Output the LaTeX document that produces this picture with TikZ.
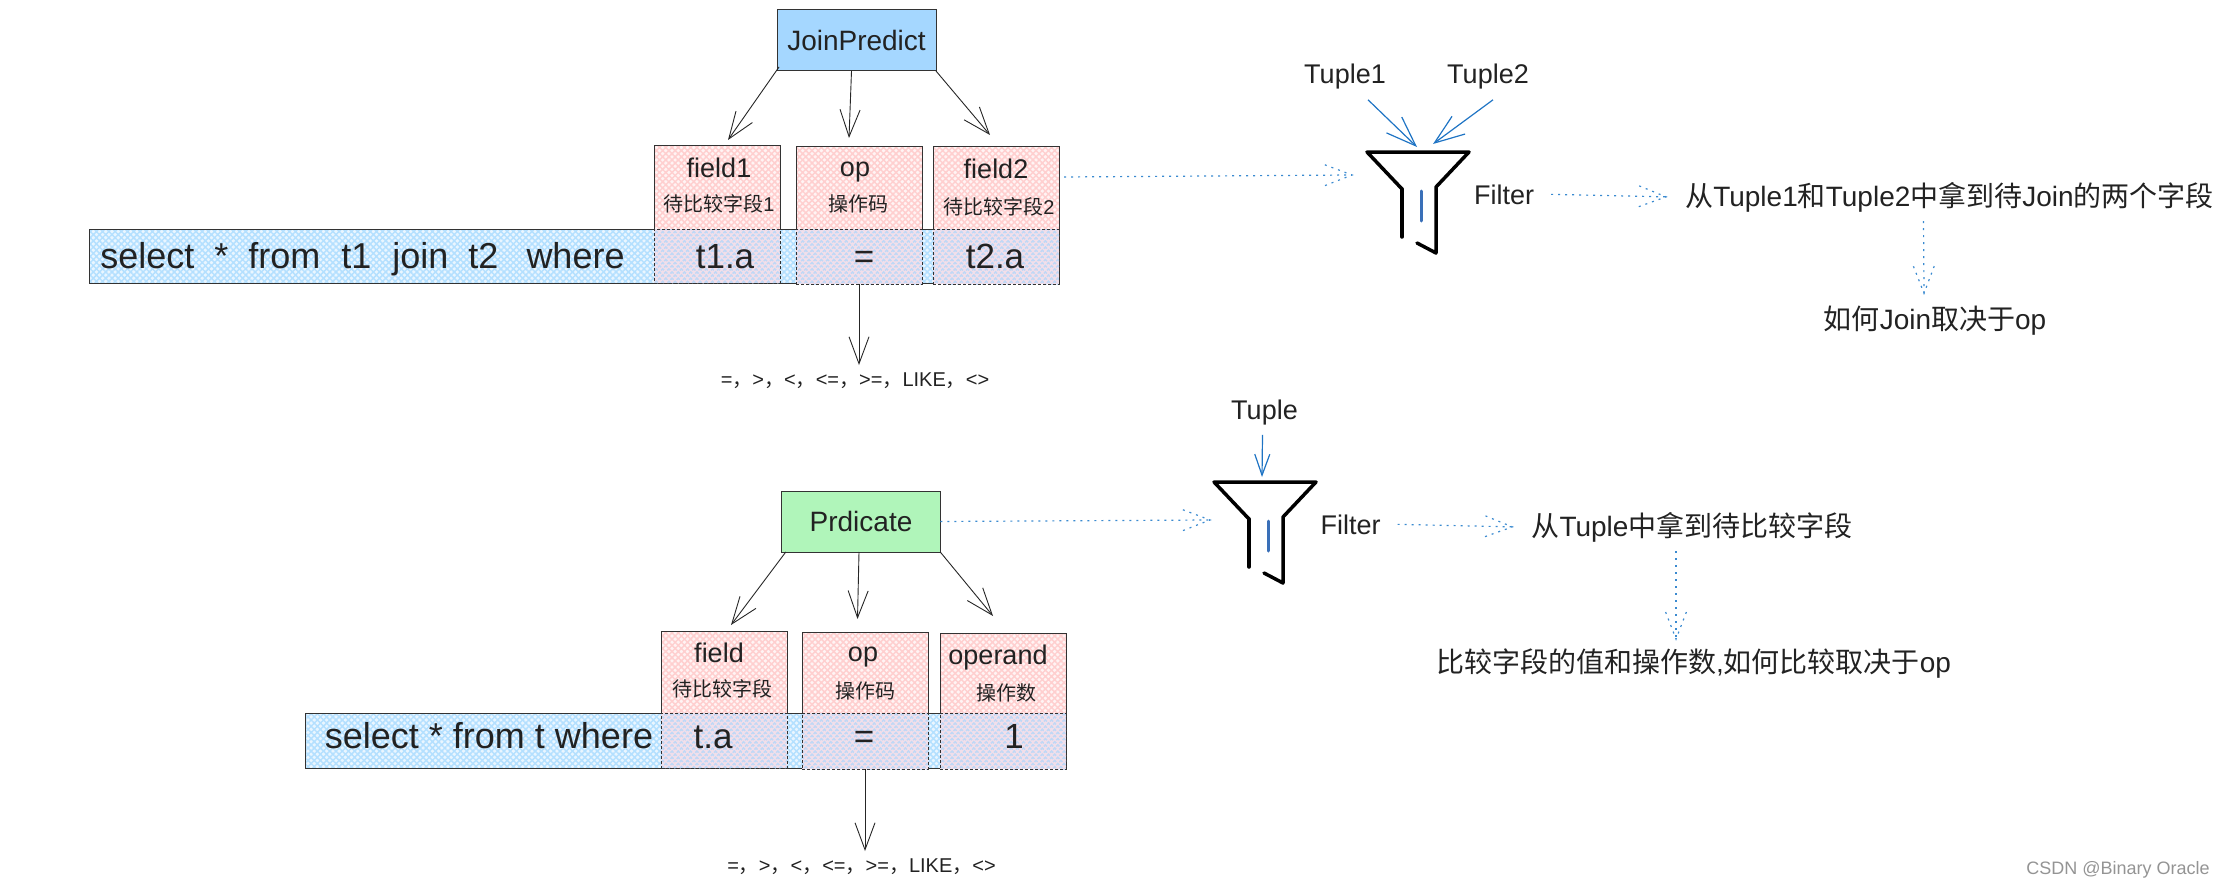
\documentclass[tikz,border=0pt]{standalone}
\usepackage{fontspec}
\setmainfont{Liberation Sans}
\newfontfamily\cjk{Noto Sans CJK SC}
\usetikzlibrary{arrows.meta,calc,patterns.meta}

\definecolor{inkGray}{HTML}{222222}
\definecolor{flowBlue}{HTML}{3A8AD0}
\definecolor{tupleBlue}{HTML}{1F74C4}
\definecolor{barBlue}{HTML}{3A70B8}
\definecolor{joinFill}{HTML}{A5D7FF}
\definecolor{predFill}{HTML}{B0F5BA}
\definecolor{barBack}{HTML}{EAF6FF}
\definecolor{barHatch}{HTML}{B4E0FF}
\definecolor{fieldBack}{HTML}{FFF4F4}
\definecolor{fieldHatch}{HTML}{FFCFCF}
\definecolor{cellBack}{HTML}{F2DFEA}
\definecolor{cellHatch}{HTML}{BFD8F6}
\newcommand{\cm}{{\cjk ，}}

\tikzset{
    hatchFill/.style 2 args={preaction={fill=#1},pattern={Hatch[angle=45,distance=4.4pt,line width=1.5pt]},pattern color=#2},
    plainBox/.style={rectangle,draw=black!80,inner sep=0pt,outer sep=0pt,line width=1pt},
    queryBar/.style={plainBox,hatchFill={barBack}{barHatch}},
    fieldBox/.style={plainBox,hatchFill={fieldBack}{fieldHatch}},
    cellBox/.style={plainBox,dash pattern=on 3pt off 2pt,hatchFill={cellBack}{cellHatch}},
    mainText/.style={anchor=base,text=inkGray,font=\fontsize{27}{30}\selectfont,inner sep=3pt},
    queryText/.style={anchor=base,text=inkGray,font=\fontsize{35}{38}\selectfont,inner sep=0pt},
    subText/.style={anchor=base,text=inkGray,font=\fontsize{20}{22}\selectfont\cjk,inner sep=0pt},
    noteText/.style={anchor=base,text=inkGray,font=\fontsize{20}{22}\selectfont,inner ysep=7pt,inner xsep=0pt},
    flowText/.style={anchor=base,text=inkGray,font=\fontsize{28}{30}\selectfont,inner xsep=19pt,inner ysep=9pt},
    arrowLine/.style={draw=black!85,line width=.9pt,-{Straight Barb[length=27pt,width=20pt]}},
    tupleLine/.style={draw=tupleBlue,line width=1.2pt},
    flowLine/.style={draw=flowBlue,line width=1.2pt,dash pattern=on 2pt off 5pt},
    funnelLine/.style={draw=black,line width=3.5pt,line cap=round,line join=round}
}

% dotted line with a dotted open head
\newcommand{\flowArrow}[2]{
    \draw[flowLine] (#1) -- (#2);
    \draw[flowLine] ($(#2)!29pt!21:(#1)$) -- (#2) -- ($(#2)!29pt!-21:(#1)$);
}

\begin{document}
\begin{tikzpicture}[x=1pt,y=-1pt]
    \useasboundingbox (0,0) rectangle (2224,888);

    % Query bars
    \node[queryBar,minimum width=970pt,minimum height=54pt] (barOne) at (574,256) {};
    \node[queryBar,minimum width=760.5pt,minimum height=55pt] (barTwo) at (685.75,740.5) {};

    % Boxes above the bars
    \foreach \name/\x/\y/\h in {fieldOne/717/187.5/83,opOne/859/188/82,fieldTwo/996/188/82,
                                field/724/672/82,opTwo/865/672.5/81,operand/1003/673/80} {
        \node[fieldBox,minimum width=126pt,minimum height=\h pt] (\name) at (\x,\y) {};
    }

    % Boxes inside the bars
    \foreach \name/\x/\y/\h in {cellOne/717/256/54,cellOp/859/256.5/55,cellTwo/996/256.5/55,
                                cellField/724/740.5/55,cellOpTwo/865/741/56,cellOperand/1003/741/56} {
        \node[cellBox,minimum width=126pt,minimum height=\h pt] (\name) at (\x,\y) {};
    }

    % Predicates
    \node[plainBox,fill=joinFill,text=inkGray,font=\fontsize{28}{30}\selectfont,minimum width=159pt,minimum height=61pt] (joinBox) at (856.5,40.5) {JoinPredict};
    \node[plainBox,fill=predFill,text=inkGray,font=\fontsize{28}{30}\selectfont,minimum width=158.5pt,minimum height=61pt] (predBox) at (861,521.5) {Prdicate};

    % Upper query
    \node[queryText,font=\fontsize{36}{38}\selectfont] (queryOne) at (362.5,268) {select\hspace{20pt}*\hspace{20pt}from\hspace{21pt}t1\hspace{21pt}join\hspace{20pt}t2\hspace{28pt}where};
    \node[queryText] (valOne) at (725,268) {t1.a};
    \node[queryText] (valOp) at (864,268) {=};
    \node[queryText] (valTwo) at (995,268) {t2.a};
    \node[mainText] (nameOne) at (719,177) {field1};
    \node[mainText] (nameOp) at (855,176) {op};
    \node[mainText] (nameTwo) at (996,178) {field2};
    \node[subText] (subOne) at (719,211) {待比较字段{\rmfamily 1}};
    \node[subText] (subOp) at (858,211) {操作码};
    \node[subText] (subTwo) at (999,214) {待比较字段{\rmfamily 2}};
    \node[noteText] (noteOne) at (855,386) {=\cm{}>\cm{}<\cm{}<=\cm{}>=\cm{}LIKE\cm{}<>};

    % Lower query
    \node[queryText,font=\fontsize{36}{38}\selectfont] (queryTwo) at (489,748) {select * from t where};
    \node[queryText] (valField) at (713,748) {t.a};
    \node[queryText] (valOpTwo) at (864,748) {=};
    \node[queryText] (valOperand) at (1014,748) {1};
    \node[mainText] (nameField) at (719,662) {field};
    \node[mainText] (nameOpTwo) at (863,661) {op};
    \node[mainText] (nameOperand) at (998,664) {operand};
    \node[subText] (subField) at (722,696) {待比较字段};
    \node[subText] (subOpTwo) at (865,698) {操作码};
    \node[subText] (subOperand) at (1006,700) {操作数};
    \node[noteText] (noteTwo) at (861.5,872) {=\cm{}>\cm{}<\cm{}<=\cm{}>=\cm{}LIKE\cm{}<>};

    % Arrows to the boxes
    \draw[arrowLine] ([shift={(2,-4)}]joinBox.south west) -- ([shift={(11,-6)}]fieldOne.north);
    \draw[arrowLine] ([xshift=-5pt]joinBox.south) -- ([shift={(-10,-9)}]opOne.north);
    \draw[arrowLine] (joinBox.south east) -- ([shift={(-6,-12)}]fieldTwo.north);
    \draw[arrowLine] (cellOp.south) -- (cellOp.south |- noteOne.north);
    \draw[arrowLine] ([xshift=4pt]predBox.south west) -- ([shift={(7,-6)}]field.north);
    \draw[arrowLine] ([xshift=-2pt]predBox.south) -- ([shift={(-7.5,-13)}]opTwo.north);
    \draw[arrowLine] (predBox.south east) -- ([shift={(-10,-17)}]operand.north);
    \draw[arrowLine] (cellOpTwo.south) -- (cellOpTwo.south |- noteTwo.north);

    % Funnels
    \foreach \fx/\fy in {1367/152,1214/482} {
        \begin{scope}[shift={(\fx,\fy)}]
            \draw[funnelLine] (35,37) -- (0,0) -- (102,0) -- (69,35) -- (69,101) -- (50,91);
            \draw[funnelLine] (35,37) -- (35,85);
            \draw[funnelLine,draw=barBlue,line width=3pt] (54,39) -- (54,69);
        \end{scope}
    }

    % Right hand side, upper
    \node[mainText] (tupleOne) at (1345,84) {Tuple1};
    \node[mainText] (tupleTwo) at (1488,84) {Tuple2};
    \node[mainText,inner xsep=17pt] (filterOne) at (1504,204) {Filter};
    \node[flowText] (takeOne) at (1949.5,206) {{\cjk 从}Tuple1{\cjk 和}Tuple2{\cjk 中拿到待}Join{\cjk 的两个字段}};
    \node[flowText] (howOne) at (1935,329) {{\cjk 如何}Join{\cjk 取决于}op};
    \coordinate (outOne) at ([shift={(5,-11)}]fieldTwo.east);
    \coordinate (inOne) at (1352,175);
    \coordinate (tipOneA) at (1417,147);
    \coordinate (tipOneB) at (1433,144);
    \coordinate (downOne) at ([xshift=-26pt]takeOne.south);
    \coordinate (endOne) at ([shift={(-11,-3)}]howOne.north);
    \draw[tupleLine,-{Straight Barb[length=30pt,width=22pt]}] ([shift={(23,7)}]tupleOne.south) -- (tipOneA);
    \draw[tupleLine,-{Straight Barb[length=30pt,width=22pt]}] ([shift={(5,7)}]tupleTwo.south) -- (tipOneB);
    \flowArrow{outOne}{inOne}
    \flowArrow{filterOne.east}{takeOne.west}
    \flowArrow{downOne}{endOne}

    % Right hand side, lower
    \node[mainText] (tupleSingle) at (1264.5,419) {Tuple};
    \node[mainText,inner xsep=17pt] (filterTwo) at (1350.5,534) {Filter};
    \node[flowText] (takeTwo) at (1692,536) {{\cjk 从}Tuple{\cjk 中拿到待比较字段}};
    \node[flowText] (howTwo) at (1693.5,672) {{\cjk 比较字段的值和操作数}{,}{\cjk 如何比较取决于}op};
    \coordinate (inTwo) at (1210,520);
    \coordinate (tipTwo) at (1262,477);
    \coordinate (downTwo) at ([xshift=-16pt]takeTwo.south);
    \coordinate (endTwo) at ([xshift=-16pt]takeTwo.south |- howTwo.north);
    \draw[tupleLine,-{Straight Barb[length=21pt,width=15pt]}] ([xshift=-2pt,yshift=-7pt]tupleSingle.south) -- (tipTwo);
    \flowArrow{predBox.east}{inTwo}
    \flowArrow{filterTwo.east}{takeTwo.west}
    \flowArrow{downTwo}{endTwo}

    % Watermark
    \node[anchor=base,text=black!42,font=\fontsize{18}{20}\selectfont,inner sep=0pt] (mark) at (2118,874) {CSDN @Binary Oracle};
\end{tikzpicture}
\end{document}
